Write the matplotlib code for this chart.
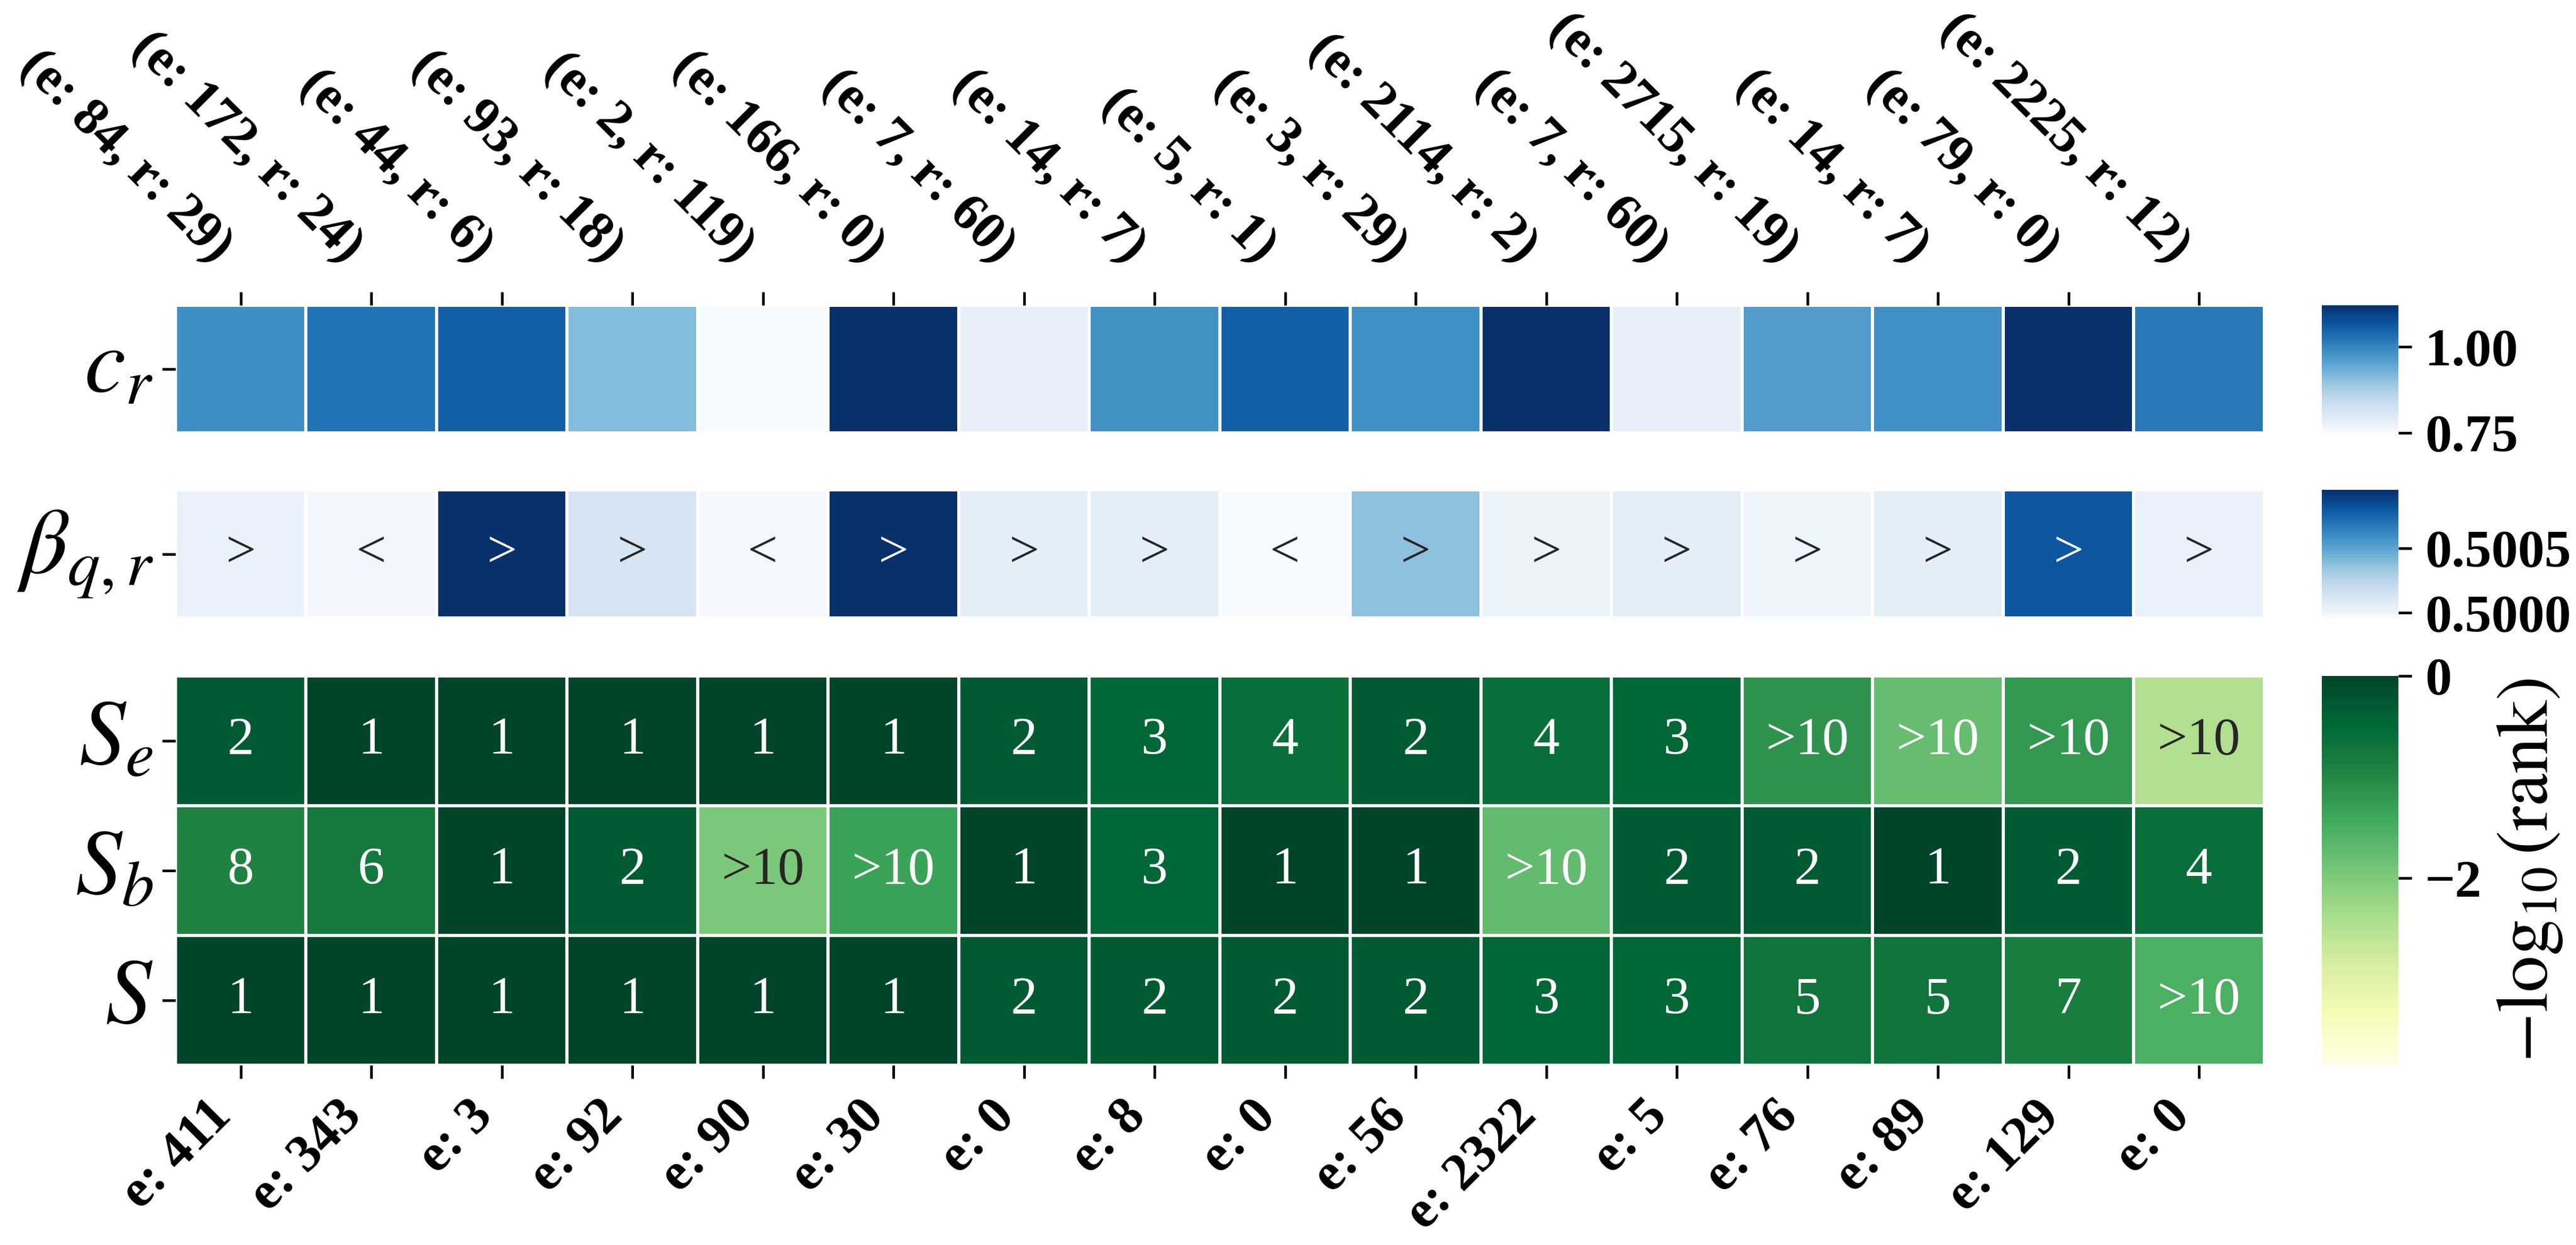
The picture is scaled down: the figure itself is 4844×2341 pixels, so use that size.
import numpy as np
import matplotlib
matplotlib.use("Agg")
import matplotlib.pyplot as plt
import seaborn as sns

# ---------------- data ----------------
top_labels = ["(e: 84, r: 29)", "(e: 172, r: 24)", "(e: 44, r: 6)", "(e: 93, r: 18)",
              "(e: 2, r: 119)", "(e: 166, r: 0)", "(e: 7, r: 60)", "(e: 14, r: 7)",
              "(e: 5, r: 1)", "(e: 3, r: 29)", "(e: 2114, r: 2)", "(e: 7, r: 60)",
              "(e: 2715, r: 19)", "(e: 14, r: 7)", "(e: 79, r: 0)", "(e: 2225, r: 12)"]
bottom_labels = ["e: 411", "e: 343", "e: 3", "e: 92", "e: 90", "e: 30", "e: 0", "e: 8",
                 "e: 0", "e: 56", "e: 2322", "e: 5", "e: 76", "e: 89", "e: 129", "e: 0"]

row_label_c = [r"$c_r$"]
row_label_beta = [r"$\beta_{q,r}$"]
row_labels_s = [r"$S_e$", r"$S_b$", r"$S$"]

c_r = [0.985, 1.026, 1.053, 0.913, 0.750, 1.120, 0.781, 0.981,
       1.053, 0.983, 1.120, 0.781, 0.965, 0.983, 1.120, 1.016]

beta_qr = [0.50003, 0.49999, 0.50095, 0.50013, 0.49998, 0.50095, 0.50006, 0.50006,
           0.49996, 0.50037, 0.50002, 0.50006, 0.50001, 0.50006, 0.50080, 0.50003]

# ranks (values > 10 are shown as ">10")
rank_Se = [2, 1, 1, 1, 1, 1, 2, 3, 4, 2, 4, 3, 14, 59, 17, 290]
rank_Sb = [8, 6, 1, 2, 92, 22, 1, 3, 1, 1, 54, 2, 2, 1, 2, 4]
rank_S = [1, 1, 1, 1, 1, 1, 2, 2, 2, 2, 3, 3, 5, 5, 7, 35]

green_vmin = -3.85
green_vmax = 0.0

# ---------------- style ----------------
plt.rcParams["font.family"] = ["Liberation Serif", "DejaVu Serif"]
plt.rcParams["mathtext.fontset"] = "stix"
plt.rcParams["axes.unicode_minus"] = True

W, H, DPI = 4844, 2341, 300
fig = plt.figure(figsize=(W / DPI, H / DPI), dpi=DPI)

L, WD = 0.0681, 0.8109
CL, CW = 0.9013, 0.0297
ax1 = fig.add_axes([L, 0.6523, WD, 0.1025])
ax2 = fig.add_axes([L, 0.5036, WD, 0.1029])
ax3 = fig.add_axes([L, 0.1444, WD, 0.3127])
cax1 = fig.add_axes([CL, 0.6523, CW, 0.1025])
cax2 = fig.add_axes([CL, 0.5036, CW, 0.1029])
cax3 = fig.add_axes([CL, 0.1444, CW, 0.3127])

ANN = 24
TICK = 24
YLAB = 42

# row 1: c_r
c_arr = np.array([c_r])
sns.heatmap(c_arr, ax=ax1, cmap="Blues", cbar_ax=cax1, linewidths=1, linecolor="white",
            vmin=min(c_r), vmax=max(c_r), xticklabels=top_labels, yticklabels=row_label_c)
ax1.xaxis.tick_top()
ax1.set_xticklabels(top_labels, rotation=-45, ha="right", fontsize=TICK, fontweight="bold")
ax1.tick_params(axis="x", which="major", top=True, bottom=False, length=6, width=1.2, pad=9)

# row 2: beta
b_arr = np.array([beta_qr])
b_ann = np.array([[">" if v > 0.5 else "<" for v in beta_qr]])
sns.heatmap(b_arr, ax=ax2, cmap="Blues", cbar_ax=cax2, linewidths=1, linecolor="white",
            vmin=min(beta_qr), vmax=max(beta_qr), annot=b_ann, fmt="",
            annot_kws={"fontsize": ANN}, xticklabels=False, yticklabels=row_label_beta)

# rows 3-5: ranks
ranks = np.array([rank_Se, rank_Sb, rank_S], dtype=float)
g_arr = -np.log10(ranks)
g_ann = np.array([[str(int(r)) if r <= 10 else ">10" for r in row] for row in ranks])
sns.heatmap(g_arr, ax=ax3, cmap="YlGn", cbar_ax=cax3, linewidths=1, linecolor="white",
            vmin=green_vmin, vmax=green_vmax, annot=g_ann, fmt="",
            annot_kws={"fontsize": ANN}, xticklabels=bottom_labels, yticklabels=row_labels_s)
ax3.set_xticklabels(bottom_labels, rotation=45, ha="right", fontsize=TICK, fontweight="bold")
ax3.tick_params(axis="x", length=6, width=1.2, pad=6)

for ax, labs in ((ax1, row_label_c), (ax2, row_label_beta), (ax3, row_labels_s)):
    ax.set_yticklabels(labs, rotation=0, fontsize=YLAB, va="center")
    ax.tick_params(axis="y", length=6, width=1.2, pad=4)
    ax.set_xlabel("")
    ax.set_ylabel("")

# colorbars
cax1.set_yticks([0.75, 1.00], labels=["0.75", "1.00"], fontsize=TICK, fontweight="bold")
cax2.set_yticks([0.5000, 0.5005], labels=["0.5000", "0.5005"], fontsize=TICK, fontweight="bold")
cax3.set_yticks([0, -2], labels=["0", "\u22122"], fontsize=TICK, fontweight="bold")
for cax in (cax1, cax2, cax3):
    cax.tick_params(axis="y", length=6, width=1.2, pad=6)
cax3.set_ylabel(r"$-\log_{10}(\mathrm{rank})$", fontsize=33, labelpad=6)

fig.savefig("out.png", dpi=DPI)
